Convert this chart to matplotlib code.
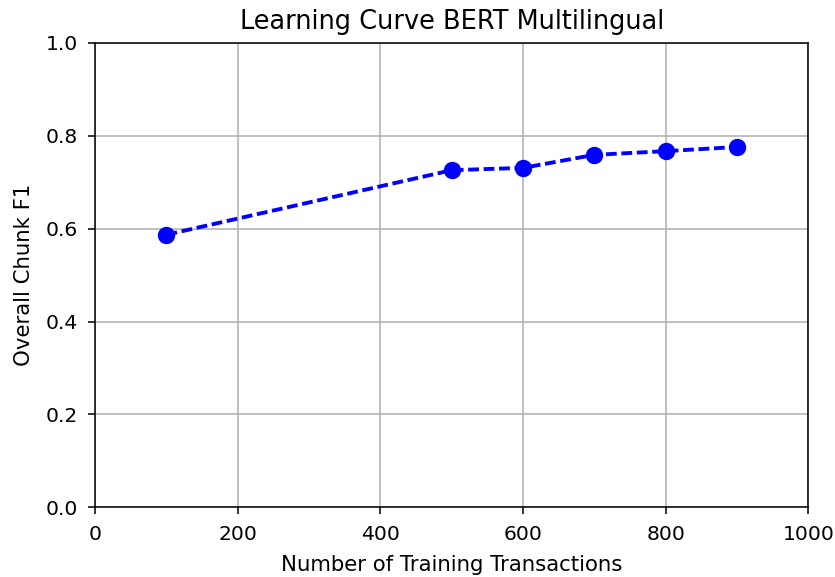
import matplotlib
matplotlib.use("Agg")
import matplotlib.pyplot as plt

# размер обучающей выборки и итоговый F1
n_train = [100, 500, 600, 700, 800, 900]
f1 = [0.587, 0.726, 0.731, 0.759, 0.767, 0.776]

dpi = 139
fig = plt.figure(figsize=(835 / dpi, 577 / dpi), dpi=dpi)
ax = fig.add_axes([0.114, 0.121, 0.854, 0.8045])

ax.plot(n_train, f1, 'bo--', markersize=8, linewidth=2, dashes=(2.8, 1.2))
ax.set_xlim(0, 1000)
ax.set_ylim(0, 1.0)
ax.grid(True)
ax.tick_params(labelsize=10.5, pad=5.5)

ax.set_title('Learning Curve BERT Multilingual', fontsize=13.3, pad=7)
ax.set_xlabel('Number of Training Transactions', fontsize=11, labelpad=6)
ax.set_ylabel('Overall Chunk F1', fontsize=11, labelpad=6)

fig.savefig('out.png', dpi=dpi)
